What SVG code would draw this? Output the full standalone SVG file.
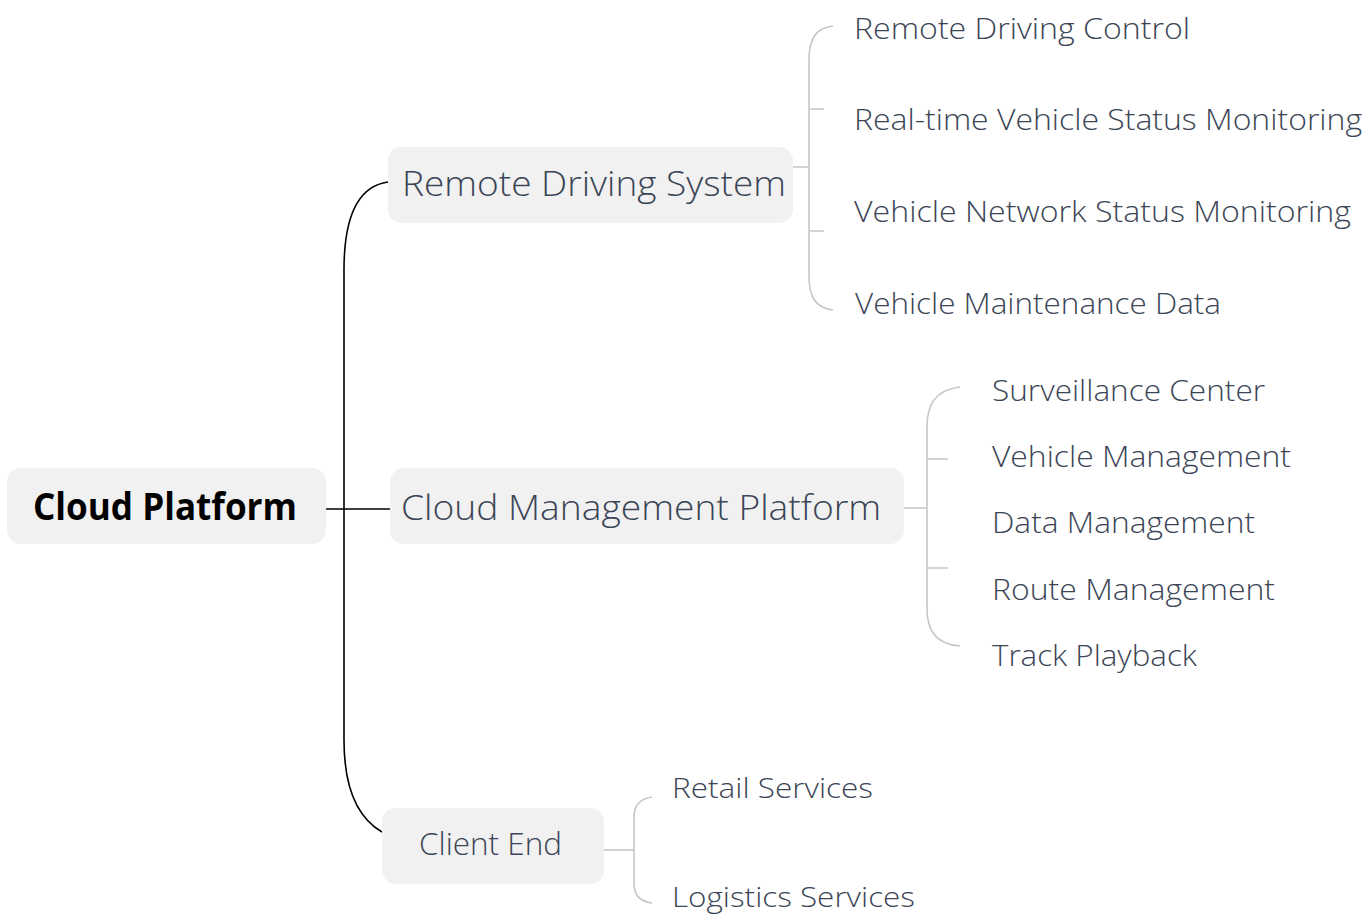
<svg xmlns="http://www.w3.org/2000/svg" width="1368" height="917" viewBox="0 0 1368 917">
<style>
.box{fill:#f1f1f1}
.root{font-family:"Open Sans","Noto Sans","Liberation Sans",sans-serif;font-weight:700;font-size:37px;fill:#000}
.main{font-family:"Open Sans","Noto Sans","Liberation Sans",sans-serif;font-weight:300;font-size:35px;fill:#3b4556}
.leaf{font-family:"Open Sans","Noto Sans","Liberation Sans",sans-serif;font-weight:300;font-size:30px;fill:#3b4556}
.trunk{fill:none;stroke:#000;stroke-width:1.6}
.sub{fill:none;stroke:#c6c6c6;stroke-width:1.6}
</style>
<rect width="1368" height="917" fill="#fff"/>
<g id="connectors">
<path class="trunk" d="M326 509 L390 509"/>
<path class="trunk" d="M388 182 Q344 188 344 270 L344 740 Q344 810 382 832"/>
<path class="sub" d="M793 167 L809 167 M809 109 L824 109 M809 231 L824 231"/>
<path class="sub" d="M833 26 C815 28 809 40 809 60 L809 276 C809 296 815 308 833 310"/>
<path class="sub" d="M904 508 L927 508 M927 459 L948 459 M927 568 L948 568"/>
<path class="sub" d="M960 387 C935 390 927 405 927 427 L927 608 C927 630 935 644 960 646"/>
<path class="sub" d="M604 850 L634 850"/>
<path class="sub" d="M652 797 C638 799 634 808 634 817 L634 883 C634 894 638 901 652 903"/>
</g>
<g id="root">
<rect class="box" x="7" y="468" width="319" height="76" rx="14"/>
<text class="root" x="33" y="520" textLength="264" lengthAdjust="spacingAndGlyphs">Cloud Platform</text>
</g>
<g id="remote-driving-system">
<rect class="box" x="388" y="147" width="405" height="76" rx="14"/>
<text class="main" x="402" y="196" textLength="384" lengthAdjust="spacingAndGlyphs">Remote Driving System</text>
</g>
<g id="cloud-management-platform">
<rect class="box" x="390" y="468" width="514" height="76" rx="14"/>
<text class="main" x="401" y="520" textLength="480" lengthAdjust="spacingAndGlyphs">Cloud Management Platform</text>
</g>
<g id="client-end">
<rect class="box" x="382" y="808" width="222" height="76" rx="14"/>
<text class="main" x="419" y="855" style="font-size:32px" textLength="143" lengthAdjust="spacingAndGlyphs">Client End</text>
</g>
<g id="remote-driving-control"><text class="leaf" x="854" y="39" textLength="336" lengthAdjust="spacingAndGlyphs">Remote Driving Control</text></g>
<g id="realtime-status"><text class="leaf" x="854" y="130" textLength="508" lengthAdjust="spacingAndGlyphs">Real-time Vehicle Status Monitoring</text></g>
<g id="network-status"><text class="leaf" x="854" y="222" textLength="497" lengthAdjust="spacingAndGlyphs">Vehicle Network Status Monitoring</text></g>
<g id="maintenance-data"><text class="leaf" x="855" y="314" textLength="366" lengthAdjust="spacingAndGlyphs">Vehicle Maintenance Data</text></g>
<g id="surveillance-center"><text class="leaf" x="992" y="401" textLength="273" lengthAdjust="spacingAndGlyphs">Surveillance Center</text></g>
<g id="vehicle-management"><text class="leaf" x="992" y="467" textLength="299" lengthAdjust="spacingAndGlyphs">Vehicle Management</text></g>
<g id="data-management"><text class="leaf" x="992" y="533" textLength="263" lengthAdjust="spacingAndGlyphs">Data Management</text></g>
<g id="route-management"><text class="leaf" x="992" y="600" textLength="283" lengthAdjust="spacingAndGlyphs">Route Management</text></g>
<g id="track-playback"><text class="leaf" x="992" y="666" textLength="205" lengthAdjust="spacingAndGlyphs">Track Playback</text></g>
<g id="retail-services"><text class="leaf" x="672" y="798" style="font-size:28px" textLength="201" lengthAdjust="spacingAndGlyphs">Retail Services</text></g>
<g id="logistics-services"><text class="leaf" x="672" y="907" style="font-size:27px" textLength="243" lengthAdjust="spacingAndGlyphs">Logistics Services</text></g>
</svg>
